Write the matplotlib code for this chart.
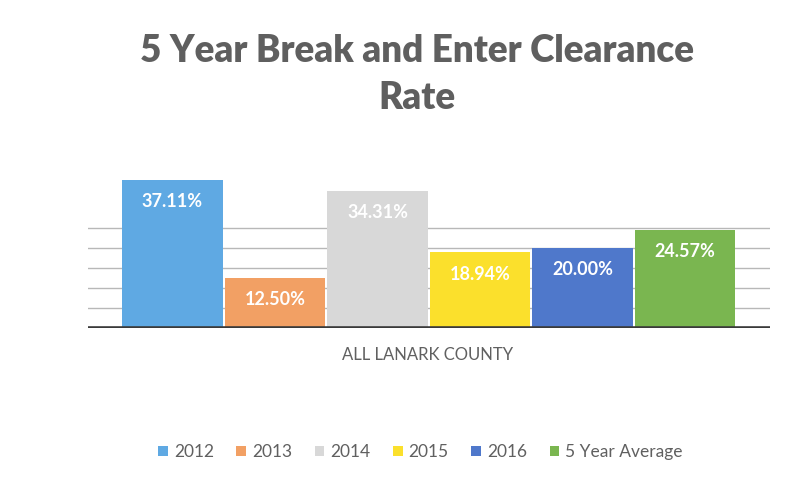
import matplotlib
matplotlib.use("Agg")
import matplotlib.pyplot as plt
from matplotlib.patches import Patch

plt.rcParams['font.family'] = ['Lato', 'DejaVu Sans']

# data
series = ['2012', '2013', '2014', '2015', '2016', '5 Year Average']
rates = [37.11, 12.50, 34.31, 18.94, 20.00, 24.57]
labels = ['37.11%', '12.50%', '34.31%', '18.94%', '20.00%', '24.57%']
category = 'ALL LANARK COUNTY'
title = '5 Year Break and Enter Clearance\nRate'

colors = ['#5fa9e3', '#f2a064', '#d8d8d8', '#fbe02c', '#4f78cb', '#7ab650']
text_gray = '#606060'

fig = plt.figure(figsize=(8.1, 4.82), dpi=100)
fig.patch.set_facecolor('white')
ax = fig.add_axes([0.109, 0.3195, 0.842, 0.332])

xs = list(range(len(series)))
bars = ax.bar(xs, rates, width=0.98, color=colors, zorder=2)

# gridlines (only the lower ones survive in the scan)
for g in [5, 10, 15, 20, 25]:
    ax.axhline(g, color='#b8b8b8', lw=1, zorder=1)
ax.axhline(0, color='#3a3a3a', lw=2.6, zorder=3)

for b, lab in zip(bars, labels):
    ax.text(b.get_x() + b.get_width() / 2, b.get_height() - 5.5, lab,
            ha='center', va='center', color='white', fontsize=13,
            fontweight='bold', zorder=4)

ax.set_xlim(-0.82, 5.83)
ax.set_ylim(0, 40)
ax.set_xticks([])
ax.set_yticks([])
for s in ax.spines.values():
    s.set_visible(False)

fig.text(0.528, 0.264, category, ha='center', va='center',
         color=text_gray, fontsize=12)

fig.text(0.515, 0.845, title, ha='center', va='center', color='#5f5f5f',
         fontsize=26.5, fontweight='heavy', linespacing=1.45)

handles = [Patch(facecolor=c, edgecolor='none') for c in colors]
fig.legend(handles, series, loc='center', bbox_to_anchor=(0.519, 0.062),
           ncol=6, frameon=False, fontsize=12.5, handlelength=0.55,
           handleheight=0.55, handletextpad=0.35, columnspacing=1.3,
           labelcolor=text_gray)

fig.savefig('out.png', dpi=100)
